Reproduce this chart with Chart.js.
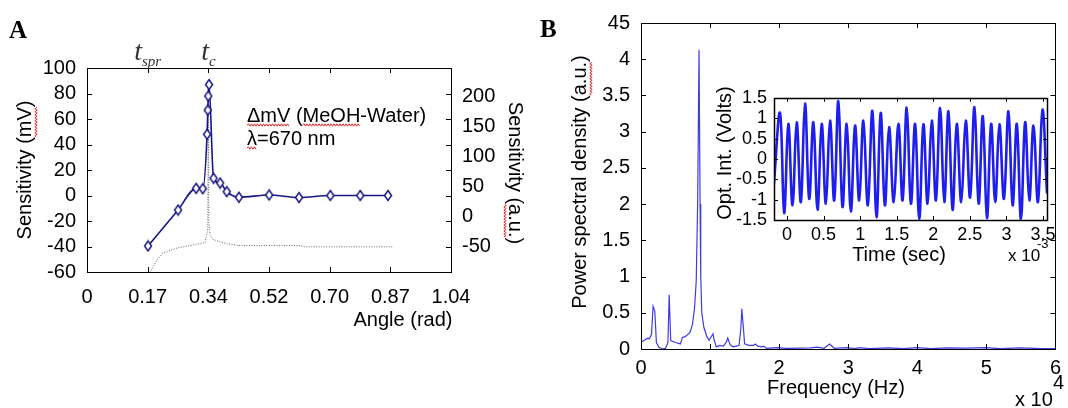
<!DOCTYPE html>
<html><head><meta charset="utf-8">
<script src="https://cdn.jsdelivr.net/npm/chart.js@4.4.1/dist/chart.umd.min.js"></script>
<style>
html,body{margin:0;padding:0;background:#fff;overflow:hidden}
#wrap{position:relative;width:1068px;height:408px;background:#fff}
canvas{position:absolute}
</style></head><body>
<div id="wrap">
<canvas id="cA" width="540" height="408" style="left:0;top:0"></canvas>
<canvas id="cB" width="528" height="408" style="left:540px;top:0"></canvas>
<canvas id="cI" width="370" height="185" style="left:690px;top:80px"></canvas>
</div>
<script>
// ---------- Panel A data ----------
const angleTickValues = [0, 0.1745, 0.3491, 0.5236, 0.6981, 0.8727, 1.0472];
const angleTickLabels = ['0', '0.17', '0.34', '0.52', '0.70', '0.87', '1.04'];
const mvTickValues = [-60, -40, -20, 0, 20, 40, 60, 80, 100];
const auTickValues = [-50, 0, 50, 100, 150, 200];
// measured sensitivity (mV), diamonds
const angleMV = [0.1756, 0.262, 0.314, 0.333, 0.3455, 0.3475, 0.349, 0.351, 0.364, 0.383, 0.402, 0.437, 0.524, 0.610, 0.700, 0.786, 0.866];
const sensMV  = [-39.6, -11.4, 5.6, 5.3, 48, 67, 78, 87, 13.5, 9.8, 3.0, -1.4, 0.4, -1.6, 0.0, 0.0, 0.0];
// theoretical sensitivity (a.u.), dotted
const angleAU = [0.181, 0.2016, 0.219, 0.259, 0.305, 0.340, 0.3475, 0.349, 0.3505, 0.354, 0.363, 0.403, 0.441, 0.613, 0.625, 0.881];
const sensAU  = [-93, -72, -60, -52, -47, -43, -20, 222, -10, -30, -38, -45, -48, -48, -50, -50];
const annotLines = ['\u0394mV (MeOH-Water)', '\u03bb=670 nm'];

// ---------- Panel B data ----------
const freqTickValues = [0, 1, 2, 3, 4, 5, 6];
const freqTickLabels = ['0', '1', '2', '3', '4', '5', '6'];
const psdTickValues = [0, 0.5, 1, 1.5, 2, 2.5, 3, 3.5, 4, 4.5];
const psdTickLabels = ['0', '0.5', '1', '1.5', '2', '2.5', '3', '3.5', '4', '45'];
const freq = [0, 0.047, 0.095, 0.12, 0.152, 0.175, 0.20, 0.223, 0.26, 0.308,
  0.356, 0.39, 0.408, 0.43, 0.50, 0.57, 0.60, 0.64, 0.71, 0.745,
  0.775, 0.80, 0.82, 0.84, 0.855, 0.865, 0.88, 0.91, 0.95, 0.985,
  1.043, 1.06, 1.09, 1.14, 1.19, 1.233, 1.256, 1.29, 1.33, 1.38,
  1.42, 1.446, 1.46, 1.48, 1.50, 1.56, 1.63, 1.655, 1.69, 1.75,
  1.77, 1.82, 1.90, 1.98, 2.10, 2.30, 2.45, 2.55, 2.65, 2.73,
  2.80, 2.97, 3.10, 3.16, 3.30, 3.58, 3.80, 3.99, 4.20, 4.42,
  4.70, 4.99, 5.20, 5.49, 5.80, 6.00];
const psd = [0.09, 0.12, 0.15, 0.14, 0.20, 0.59, 0.52, 0.09, 0.025, 0.0,
  0.01, 0.09, 0.75, 0.115, 0.09, 0.07, 0.16, 0.17, 0.23, 0.34,
  0.56, 0.95, 2.0, 4.13, 2.0, 1.0, 0.5, 0.3, 0.18, 0.12,
  0.21, 0.12, 0.03, 0.05, 0.04, 0.09, 0.15, 0.06, 0.03, 0.04,
  0.05, 0.29, 0.555, 0.32, 0.07, 0.05, 0.05, 0.07, 0.04, 0.03,
  0.04, 0.01, 0.015, 0.02, 0.008, 0.012, 0.015, 0.025, 0.01, 0.07,
  0.01, 0.02, 0.005, 0.02, 0.004, 0.015, 0.004, 0.02, 0.004, 0.015,
  0.012, 0.02, 0.004, 0.015, 0.004, 0.005];

// ---------- Inset data (time in 1e-3 s) ----------
const timeTickValues = [0, 0.5, 1, 1.5, 2, 2.5, 3, 3.5];
const timeTickLabels = ['0', '0.5', '1', '1.5', '2', '2.5', '3', '3.5'];
const voltTickValues = [-1.5, -1, -0.5, 0, 0.5, 1, 1.5];
const voltTickLabels = ['-1.5', '-1', '-0.5', '0', '0.5', '1', '1.5'];
const insetTime = [-0.18,
  -0.096, -0.039, 0.018, 0.075, 0.132, 0.189, 0.246, 0.303, 0.360, 0.417,
  0.474, 0.531, 0.588, 0.645, 0.702, 0.759, 0.816, 0.873, 0.930, 0.987,
  1.044, 1.105, 1.167, 1.224, 1.281, 1.338, 1.395, 1.459, 1.523, 1.580,
  1.637, 1.694, 1.751, 1.808, 1.865, 1.922, 1.979, 2.036, 2.093, 2.150,
  2.207, 2.264, 2.321, 2.382, 2.444, 2.503, 2.563, 2.620, 2.677, 2.734,
  2.791, 2.847, 2.904, 2.966, 3.028, 3.085, 3.142, 3.199, 3.256, 3.313,
  3.370, 3.431, 3.493, 3.555];
const insetVolts = [-0.62,
  1.13, -1.33, 0.86, -1.14, 0.90, -1.06, 1.36, -0.98, 0.90, -1.25,
  0.86, -1.10, 0.94, -1.02, 1.42, -1.18, 0.86, -1.29, 0.82, -1.02,
  0.94, -1.14, 1.18, -1.43, 1.13, -1.14, 0.78, -1.06, 0.86, -1.02,
  1.26, -1.10, 0.86, -1.48, 0.85, -1.10, 0.94, -1.02, 1.25, -1.06,
  1.17, -1.25, 0.86, -1.06, 0.94, -0.95, 1.27, -1.10, 1.05, -1.45,
  0.86, -1.06, 0.85, -0.98, 1.17, -1.14, 0.86, -1.48, 0.90, -1.02,
  0.82, -1.06, 1.21, -0.85];

// ---------- helpers ----------
const SANS = '"Liberation Sans", Arial, sans-serif';
const SERIF = '"Liberation Serif", "Times New Roman", serif';
Chart.defaults.font.family = SANS;
Chart.defaults.font.size = 20;
Chart.defaults.color = '#000';

function fixedTicks(values) {
  return function (scale) { scale.ticks = values.map(v => ({ value: v })); };
}
function labelFrom(values, labels) {
  return function (v) { const i = values.findIndex(t => Math.abs(t - v) < 1e-6); return i >= 0 ? labels[i] : ''; };
}
function squiggle(ctx, x1, x2, y) {
  ctx.save();
  ctx.strokeStyle = 'rgb(225,40,40)';
  ctx.lineWidth = 1;
  ctx.beginPath();
  let up = true;
  ctx.moveTo(x1, y);
  for (let x = x1 + 1.5; x <= x2; x += 1.5) { ctx.lineTo(x, y + (up ? -1.2 : 1.2)); up = !up; }
  ctx.stroke();
  ctx.restore();
}
function drawBoxTicks(chart, xs, ys, len, lw) {
  const ctx = chart.ctx, a = chart.chartArea;
  ctx.save();
  ctx.strokeStyle = '#000';
  ctx.lineWidth = 1;
  ctx.beginPath();
  xs.ticks.forEach(t => {
    const p = Math.round(xs.getPixelForValue(t.value)) + 0.5;
    ctx.moveTo(p, a.bottom); ctx.lineTo(p, a.bottom - len);
    ctx.moveTo(p, a.top); ctx.lineTo(p, a.top + len);
  });
  ys.ticks.forEach(t => {
    const p = Math.round(ys.getPixelForValue(t.value)) + 0.5;
    ctx.moveTo(a.left, p); ctx.lineTo(a.left + len, p);
    ctx.moveTo(a.right, p); ctx.lineTo(a.right - len, p);
  });
  ctx.stroke();
  ctx.lineWidth = lw;
  ctx.strokeRect(Math.round(a.left) + 0.5, Math.round(a.top) + 0.5, Math.round(a.right - a.left), Math.round(a.bottom - a.top));
  ctx.restore();
}
function rotatedLabel(ctx, text, cx, cy, angle, squigglePart, sqOffset) {
  ctx.save();
  ctx.translate(cx, cy);
  ctx.rotate(angle);
  ctx.font = '20px ' + SANS;
  ctx.fillStyle = '#000';
  ctx.textAlign = 'left';
  ctx.textBaseline = 'middle';
  const w = ctx.measureText(text).width;
  ctx.fillText(text, -w / 2, 0);
  if (squigglePart) {
    const i = text.indexOf(squigglePart);
    const x1 = -w / 2 + ctx.measureText(text.slice(0, i)).width;
    const x2 = x1 + ctx.measureText(squigglePart).width;
    squiggle(ctx, x1, x2, sqOffset);
  }
  ctx.restore();
}
function subLabel(ctx, main, sub, cx, baseY) {
  ctx.save();
  ctx.fillStyle = '#333';
  ctx.textBaseline = 'alphabetic';
  ctx.font = 'italic 28px ' + SERIF;
  const w1 = ctx.measureText(main).width;
  ctx.font = 'italic 15px ' + SERIF;
  const w2 = ctx.measureText(sub).width;
  const x0 = cx - (w1 + w2) / 2;
  ctx.font = 'italic 28px ' + SERIF;
  ctx.fillText(main, x0, baseY);
  ctx.font = 'italic 15px ' + SERIF;
  ctx.fillText(sub, x0 + w1, baseY + 6);
  ctx.restore();
}
function diamond(w, h, color) {
  const c = document.createElement('canvas');
  c.width = w + 3; c.height = h + 3;
  const g = c.getContext('2d');
  const cx = c.width / 2, cy = c.height / 2;
  g.beginPath();
  g.moveTo(cx, cy - h / 2); g.lineTo(cx + w / 2, cy); g.lineTo(cx, cy + h / 2); g.lineTo(cx - w / 2, cy); g.closePath();
  g.fillStyle = '#fff'; g.fill();
  g.lineWidth = 1.5; g.strokeStyle = color; g.stroke();
  return c;
}
const NAVY = 'rgb(22,22,135)';
const noGrid = { display: false, drawTicks: false };
const noBorder = { display: false };

// ---------- Panel A ----------
new Chart(document.getElementById('cA'), {
  type: 'line',
  data: {
    datasets: [
      {
        data: angleMV.map((x, i) => ({ x, y: sensMV[i] })), yAxisID: 'y',
        borderColor: NAVY, borderWidth: 1.6, cubicInterpolationMode: 'monotone',
        pointStyle: diamond(7, 10, NAVY), pointRadius: 5
      },
      {
        data: angleAU.map((x, i) => ({ x, y: sensAU[i] })), yAxisID: 'y2',
        borderColor: '#666', borderWidth: 1, borderDash: [1, 1.5], pointRadius: 0, tension: 0
      }
    ]
  },
  options: {
    responsive: false, animation: false, devicePixelRatio: 1,
    layout: { padding: { top: 68, left: 0, right: 0, bottom: 0 } },
    plugins: { legend: { display: false }, tooltip: { enabled: false } },
    scales: {
      x: {
        type: 'linear', min: 0, max: 1.0472, grid: noGrid, border: noBorder,
        afterBuildTicks: fixedTicks(angleTickValues),
        ticks: { callback: labelFrom(angleTickValues, angleTickLabels), autoSkip: false, maxRotation: 0, padding: 13 },
        afterFit: s => { s.height = 136; }
      },
      y: {
        min: -60, max: 100, grid: noGrid, border: noBorder,
        afterBuildTicks: fixedTicks(mvTickValues),
        ticks: { autoSkip: false, padding: 11 },
        afterFit: s => { s.width = 87; }
      },
      y2: {
        position: 'right', min: -92, max: 248, grid: noGrid, border: noBorder,
        afterBuildTicks: fixedTicks(auTickValues),
        ticks: { autoSkip: false, padding: 11 },
        afterFit: s => { s.width = 89; }
      }
    }
  },
  plugins: [{
    id: 'decoA',
    afterDraw(chart) {
      const ctx = chart.ctx, xs = chart.scales.x;
      drawBoxTicks(chart, xs, chart.scales.y, 5, 1);
      subLabel(ctx, 't', 'spr', xs.getPixelForValue(angleTickValues[1]), 60);
      subLabel(ctx, 't', 'c', xs.getPixelForValue(angleTickValues[2]), 60);
      ctx.save();
      ctx.font = '20px ' + SANS; ctx.fillStyle = '#000'; ctx.textBaseline = 'middle'; ctx.textAlign = 'left';
      const ax = 247;
      ctx.fillText(annotLines[0], ax, 116);
      ctx.fillText(annotLines[1], ax, 139);
      const wD = ctx.measureText('\u0394mV').width;
      squiggle(ctx, ax, ax + wD, 125);
      const wPre = ctx.measureText('\u0394mV (').width, wM = ctx.measureText('MeOH').width;
      squiggle(ctx, ax + wPre, ax + wPre + wM, 125);
      squiggle(ctx, ax, ax + ctx.measureText('\u03bb').width, 148);
      ctx.textAlign = 'center';
      ctx.fillText('Angle (rad)', 403, 320);
      ctx.font = 'bold 25px ' + SERIF; ctx.textAlign = 'left'; ctx.textBaseline = 'alphabetic';
      ctx.fillText('A', 9, 38);
      ctx.restore();
      rotatedLabel(ctx, 'Sensitivity (mV)', 25, 170, -Math.PI / 2, 'mV', 11);
      rotatedLabel(ctx, 'Sensitivity (a.u.)', 515, 173, Math.PI / 2, 'a.u.', 10);
    }
  }]
});

// ---------- Panel B ----------
new Chart(document.getElementById('cB'), {
  type: 'line',
  data: {
    datasets: [{
      data: freq.map((x, i) => ({ x, y: psd[i] })),
      borderColor: 'rgb(60,60,228)', borderWidth: 1.2, pointRadius: 0, tension: 0
    }]
  },
  options: {
    responsive: false, animation: false, devicePixelRatio: 1,
    layout: { padding: { top: 15, left: 0, right: 5, bottom: 0 } },
    plugins: { legend: { display: false }, tooltip: { enabled: false } },
    scales: {
      x: {
        type: 'linear', min: 0, max: 6, grid: noGrid, border: noBorder,
        afterBuildTicks: fixedTicks(freqTickValues),
        ticks: { callback: labelFrom(freqTickValues, freqTickLabels), autoSkip: false, maxRotation: 0, padding: 7 },
        afterFit: s => { s.height = 59; }
      },
      y: {
        min: 0, max: 4.5, grid: noGrid, border: noBorder,
        afterBuildTicks: fixedTicks(psdTickValues),
        ticks: { callback: labelFrom(psdTickValues, psdTickLabels), autoSkip: false, padding: 11 },
        afterFit: s => { s.width = 101; }
      }
    }
  },
  plugins: [{
    id: 'decoB',
    afterDraw(chart) {
      const ctx = chart.ctx;
      drawBoxTicks(chart, chart.scales.x, chart.scales.y, 5, 1);
      ctx.save();
      ctx.font = '20px ' + SANS; ctx.fillStyle = '#000'; ctx.textBaseline = 'middle'; ctx.textAlign = 'center';
      ctx.fillText('Frequency (Hz)', 296, 388);
      ctx.textAlign = 'left';
      ctx.fillText('x 10', 475, 400);
      ctx.fillText('4', 513, 383);
      ctx.font = 'bold 25px ' + SERIF; ctx.textBaseline = 'alphabetic';
      ctx.fillText('B', 0, 37);
      ctx.restore();
      rotatedLabel(ctx, 'Power spectral density (a.u.)', 40, 182, -Math.PI / 2, 'a.u.', 11);
    }
  }]
});

// ---------- Inset ----------
new Chart(document.getElementById('cI'), {
  type: 'line',
  data: {
    datasets: [{
      data: insetTime.map((x, i) => ({ x, y: insetVolts[i] })),
      borderColor: 'rgb(30,30,238)', borderWidth: 2.6, pointRadius: 0, tension: 0.4
    }]
  },
  options: {
    responsive: false, animation: false, devicePixelRatio: 1,
    layout: { padding: { top: 10, left: 0, right: 13, bottom: 0 } },
    plugins: { legend: { display: false }, tooltip: { enabled: false } },
    scales: {
      x: {
        type: 'linear', min: -0.178, max: 3.555, grid: noGrid, border: noBorder,
        afterBuildTicks: fixedTicks(timeTickValues),
        ticks: { callback: labelFrom(timeTickValues, timeTickLabels), autoSkip: false, maxRotation: 0, padding: 4, font: { size: 18 } },
        afterFit: s => { s.height = 45; }
      },
      y: {
        min: -1.5, max: 1.5, grid: noGrid, border: noBorder,
        afterBuildTicks: fixedTicks(voltTickValues),
        ticks: { callback: labelFrom(voltTickValues, voltTickLabels), autoSkip: false, padding: 7, font: { size: 18 } },
        afterFit: s => { s.width = 84; }
      }
    }
  },
  plugins: [{
    id: 'bgI',
    beforeDraw(chart) {
      const a = chart.chartArea, ctx = chart.ctx;
      ctx.save(); ctx.fillStyle = '#fff'; ctx.fillRect(a.left, a.top, a.right - a.left, a.bottom - a.top); ctx.restore();
    },
    afterDraw(chart) {
      const ctx = chart.ctx;
      drawBoxTicks(chart, chart.scales.x, chart.scales.y, 4, 1.5);
      ctx.save();
      ctx.font = '20px ' + SANS; ctx.fillStyle = '#000'; ctx.textBaseline = 'middle'; ctx.textAlign = 'center';
      ctx.fillText('Time (sec)', 209, 175);
      ctx.textAlign = 'left';
      ctx.font = '17px ' + SANS;
      ctx.fillText('x 10', 318, 176);
      ctx.font = '13px ' + SANS;
      ctx.fillText('-3', 347, 164);
      ctx.restore();
      rotatedLabel(ctx, 'Opt. Int. (Volts)', 35, 73, -Math.PI / 2, null, 0);
    }
  }]
});
</script>
</body></html>
